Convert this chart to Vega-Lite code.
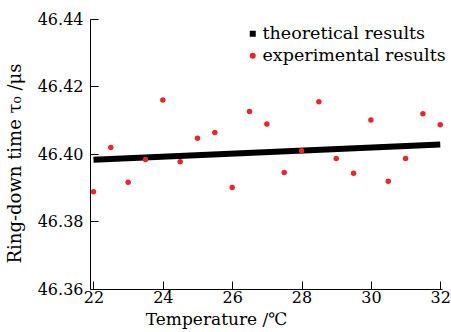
{
  "$schema": "https://vega.github.io/schema/vega-lite/v6.json",
  "autosize": "none",
  "width": 352,
  "height": 270,
  "padding": {"left": 90, "top": 19, "right": 9, "bottom": 43},
  "background": "white",
  "config": {
    "view": {"stroke": null},
    "font": "DejaVu Serif",
    "axis": {
      "labelFont": "DejaVu Serif",
      "titleFont": "DejaVu Serif",
      "labelFontSize": 16,
      "titleFontSize": 17,
      "titleFontWeight": "normal",
      "labelColor": "black",
      "titleColor": "black",
      "domainColor": "black",
      "tickColor": "black",
      "grid": false
    },
    "legend": {
      "labelFont": "DejaVu Serif",
      "labelFontSize": 17.5,
      "labelColor": "black",
      "labelLimit": 400
    }
  },
  "layer": [
    {
      "data": {"values": [
        {"t": 22, "tau": 46.3983},
        {"t": 32, "tau": 46.4028}
      ]},
      "mark": {"type": "line", "color": "black", "strokeWidth": 6},
      "encoding": {
        "x": {"field": "t", "type": "quantitative",
          "scale": {"domain": [21.9, 32.05], "nice": false, "zero": false},
          "axis": {
            "title": "Temperature /℃",
            "values": [22, 23, 24, 25, 26, 27, 28, 29, 30, 31, 32],
            "labelExpr": "datum.value % 2 == 0 ? datum.label : ''",
            "tickSize": {"condition": {"test": "datum.value % 2 != 0", "value": -4}, "value": -8},
            "labelPadding": 8,
            "titleX": 126,
            "titleY": 22,
            "titleAnchor": null
          }
        },
        "y": {"field": "tau", "type": "quantitative",
          "scale": {"domain": [46.36, 46.44], "nice": false, "zero": false},
          "axis": {
            "title": "Ring-down time τ₀ /μs",
            "titleFontSize": 18,
            "values": [46.36, 46.37, 46.38, 46.39, 46.40, 46.41, 46.42, 46.43, 46.44],
            "labelExpr": "round(datum.value*100) % 2 == 0 ? format(datum.value, '.2f') : ''",
            "tickSize": {"condition": {"test": "round(datum.value*100) % 2 == 1", "value": -4}, "value": -8},
            "labelPadding": 15,
            "titleX": -66,
            "titleY": 144,
            "titleAnchor": null
          }
        }
      }
    },
    {
      "data": {"values": [
        {"t": 22.0, "tau": 46.3888, "series": "experimental results"},
        {"t": 22.5, "tau": 46.4019, "series": "experimental results"},
        {"t": 23.0, "tau": 46.3916, "series": "experimental results"},
        {"t": 23.5, "tau": 46.3984, "series": "experimental results"},
        {"t": 24.0, "tau": 46.4160, "series": "experimental results"},
        {"t": 24.5, "tau": 46.3977, "series": "experimental results"},
        {"t": 25.0, "tau": 46.4047, "series": "experimental results"},
        {"t": 25.5, "tau": 46.4064, "series": "experimental results"},
        {"t": 26.0, "tau": 46.3901, "series": "experimental results"},
        {"t": 26.5, "tau": 46.4126, "series": "experimental results"},
        {"t": 27.0, "tau": 46.4089, "series": "experimental results"},
        {"t": 27.5, "tau": 46.3945, "series": "experimental results"},
        {"t": 28.0, "tau": 46.4010, "series": "experimental results"},
        {"t": 28.5, "tau": 46.4155, "series": "experimental results"},
        {"t": 29.0, "tau": 46.3987, "series": "experimental results"},
        {"t": 29.5, "tau": 46.3943, "series": "experimental results"},
        {"t": 30.0, "tau": 46.4101, "series": "experimental results"},
        {"t": 30.5, "tau": 46.3919, "series": "experimental results"},
        {"t": 31.0, "tau": 46.3987, "series": "experimental results"},
        {"t": 31.5, "tau": 46.4119, "series": "experimental results"},
        {"t": 32.0, "tau": 46.4087, "series": "experimental results"}
      ]},
      "mark": {"type": "point", "filled": true, "opacity": 1, "size": 30},
      "encoding": {
        "x": {"field": "t", "type": "quantitative"},
        "y": {"field": "tau", "type": "quantitative"},
        "color": {"field": "series", "type": "nominal",
          "scale": {"domain": ["theoretical results", "experimental results"], "range": ["black", "#e8262b"]},
          "legend": {"title": null, "orient": "none", "legendX": 154, "legendY": 6, "symbolSize": 36, "rowPadding": 3, "labelOffset": 1, "padding": 0}
        },
        "shape": {"field": "series", "type": "nominal",
          "scale": {"domain": ["theoretical results", "experimental results"], "range": ["square", "circle"]},
          "legend": {"title": null, "orient": "none", "legendX": 154, "legendY": 6, "symbolSize": 36, "rowPadding": 3, "labelOffset": 1, "padding": 0}
        }
      }
    }
  ]
}
